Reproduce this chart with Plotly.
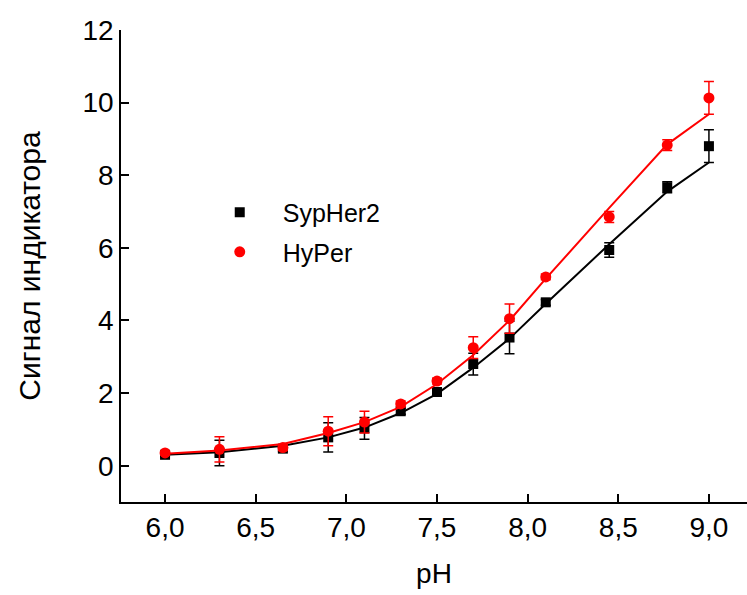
import plotly.graph_objects as go

ph = [6.0, 6.3, 6.65, 6.9, 7.1, 7.3, 7.5, 7.7, 7.9, 8.1, 8.45, 8.77, 9.0]
sypher2 = [0.30, 0.35, 0.47, 0.78, 1.03, 1.50, 2.03, 2.80, 3.53, 4.50, 5.94, 7.67, 8.80]
sypher2_err = [0.05, 0.35, 0.08, 0.40, 0.30, 0.08, 0.08, 0.30, 0.45, 0.08, 0.20, 0.15, 0.45]
hyper = [0.35, 0.45, 0.50, 0.95, 1.20, 1.70, 2.33, 3.25, 4.05, 5.20, 6.85, 8.83, 10.13]
hyper_err = [0.05, 0.35, 0.08, 0.40, 0.30, 0.08, 0.08, 0.30, 0.40, 0.08, 0.15, 0.15, 0.45]

# fitted curve values read at the measured pH points
sypher2_fit = [0.30, 0.37, 0.55, 0.78, 1.05, 1.45, 1.98, 2.70, 3.50, 4.46, 6.10, 7.55, 8.35]
hyper_fit = [0.33, 0.42, 0.60, 0.90, 1.20, 1.62, 2.25, 3.05, 4.00, 5.15, 7.10, 8.85, 9.68]

x_ticks = [6.0, 6.5, 7.0, 7.5, 8.0, 8.5, 9.0]
y_ticks = [0, 2, 4, 6, 8, 10, 12]

FONT = "Liberation Sans, Arial, sans-serif"

fig = go.Figure()
fig.add_trace(go.Scatter(x=ph, y=sypher2_fit, mode="lines", line=dict(color="black", width=2),
                         showlegend=False, hoverinfo="skip", legendgroup="a"))
fig.add_trace(go.Scatter(x=ph, y=sypher2, mode="markers", name="SypHer2", legendgroup="a",
                         marker=dict(symbol="square", size=10, color="black"),
                         error_y=dict(type="data", array=sypher2_err, color="black", thickness=1.5, width=5)))
fig.add_trace(go.Scatter(x=ph, y=hyper_fit, mode="lines", line=dict(color="red", width=2),
                         showlegend=False, hoverinfo="skip", legendgroup="b"))
fig.add_trace(go.Scatter(x=ph, y=hyper, mode="markers", name="HyPer", legendgroup="b",
                         marker=dict(symbol="circle", size=11, color="red"),
                         error_y=dict(type="data", array=hyper_err, color="red", thickness=1.5, width=5)))

fig.update_layout(
    width=747, height=595,
    margin=dict(l=121, r=0, t=30, b=93),
    paper_bgcolor="white", plot_bgcolor="white",
    separators=", ",
    font=dict(family=FONT, color="black", size=27),
    showlegend=True,
    legend=dict(x=0.121, y=0.662, xanchor="left", yanchor="top", bgcolor="rgba(0,0,0,0)",
                font=dict(size=25), itemwidth=76, traceorder="grouped", tracegroupgap=4),
    xaxis=dict(range=[5.757, 9.21], tickvals=x_ticks, tickformat=".1f", ticks="inside", ticklen=8, tickwidth=1.5,
               tickcolor="black", showline=True, linecolor="black", linewidth=1.5, showgrid=False, zeroline=False,
               title=dict(text="pH", font=dict(size=28), standoff=21), tickfont=dict(size=28)),
    yaxis=dict(range=[-1, 12], tickvals=y_ticks, ticks="inside", ticklen=8, tickwidth=1.5,
               tickcolor="black", showline=True, linecolor="black", linewidth=1.5, showgrid=False, zeroline=False,
               title=dict(text="Сигнал индикатора", font=dict(size=30), standoff=33), tickfont=dict(size=28)),
)

fig.write_html("out.html")
